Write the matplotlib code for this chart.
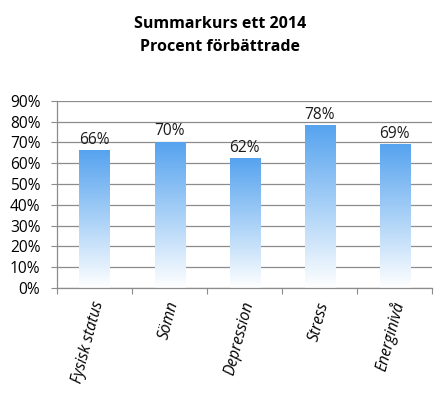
import numpy as np
import matplotlib; matplotlib.use("Agg")
import matplotlib.pyplot as plt
from matplotlib.colors import LinearSegmentedColormap

categories = ["Fysisk status", "Sömn", "Depression", "Stress", "Energinivå"]
values = [66, 70, 62, 78, 69]
yticks = [0, 10, 20, 30, 40, 50, 60, 70, 80, 90]

plt.rcParams["font.family"] = ["Open Sans", "DejaVu Sans"]
grid_c = "#8c8c8c"
cmap = LinearSegmentedColormap.from_list("bar", ["#ffffff", "#a9d1f7", "#56a3ef"])

fig = plt.figure(figsize=(4.4, 3.98), dpi=100)
ax = fig.add_axes([0.1295, 0.2764, 0.8525, 0.4705])

x = np.arange(len(categories))
grad = np.linspace(0, 1, 256).reshape(-1, 1)
w = 0.4
for xi, v in zip(x, values):
    ax.imshow(grad, extent=[xi - w / 2, xi + w / 2, 0, v], origin="lower",
              aspect="auto", cmap=cmap, zorder=2, interpolation="bilinear")
    ax.text(xi, v + 1.4, f"{v}%", ha="center", va="bottom", fontsize=11.2, color="#1a1a1a")

ax.set_xlim(-0.5, len(categories) - 0.5)
ax.set_ylim(0, 90)
ax.set_yticks(yticks)
ax.set_yticklabels([f"{t}%" for t in yticks], fontsize=11.2)
ax.yaxis.grid(True, color=grid_c, lw=0.9, zorder=0)
ax.set_axisbelow(True)

ax.set_xticks(np.arange(len(categories) + 1) - 0.5)
ax.set_xticklabels([])
ax.set_xticks(x + 0.06, minor=True)
ax.set_xticklabels(categories, minor=True, rotation=75, style="italic",
                   fontsize=11.2, ha="right", va="center", rotation_mode="anchor")
ax.tick_params(axis="x", which="minor", length=0, pad=10)
ax.tick_params(axis="x", which="major", length=4, color=grid_c, direction="out")
ax.tick_params(axis="y", length=4, color=grid_c, pad=8)

for s in ["top", "right"]:
    ax.spines[s].set_visible(False)
for s in ["left", "bottom"]:
    ax.spines[s].set_color(grid_c)
    ax.spines[s].set_linewidth(0.9)

fig.text(0.5, 0.94, "Summarkurs ett 2014", ha="center", va="center",
         fontsize=11.5, fontweight="bold")
fig.text(0.5, 0.882, "Procent förbättrade", ha="center", va="center",
         fontsize=11.5, fontweight="bold")

fig.savefig("out.png", dpi=100)
